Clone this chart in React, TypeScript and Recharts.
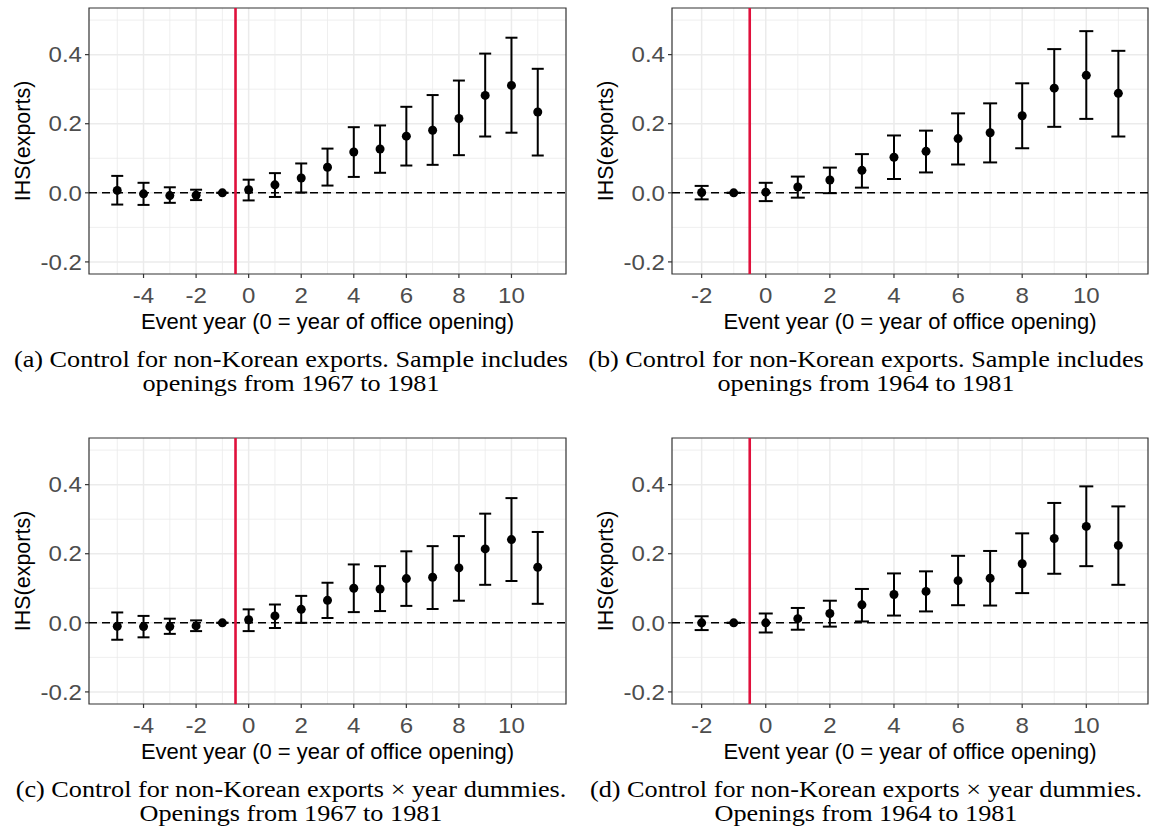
import React from "react";
import {
  ComposedChart,
  Scatter,
  XAxis,
  YAxis,
  ErrorBar,
  CartesianGrid,
  ReferenceLine,
  ReferenceArea,
} from "recharts";

// event years
const yearsLong = [-5, -4, -3, -2, -1, 0, 1, 2, 3, 4, 5, 6, 7, 8, 9, 10, 11];
const yearsShort = [-2, -1, 0, 1, 2, 3, 4, 5, 6, 7, 8, 9, 10, 11];

// (a) openings 1967-1981, control for non-Korean exports
const coefA = [0.007, -0.003, -0.008, -0.007, 0, 0.009, 0.023, 0.043, 0.074, 0.118, 0.127, 0.164, 0.181, 0.215, 0.282, 0.311, 0.234];
const lowA = [-0.034, -0.035, -0.029, -0.021, 0, -0.022, -0.012, 0.001, 0.021, 0.046, 0.058, 0.079, 0.081, 0.109, 0.163, 0.174, 0.108];
const highA = [0.049, 0.029, 0.016, 0.009, 0, 0.038, 0.057, 0.085, 0.128, 0.19, 0.195, 0.249, 0.283, 0.325, 0.403, 0.449, 0.359];

// (b) openings 1964-1981
const coefB = [0.001, 0, 0.002, 0.017, 0.037, 0.065, 0.103, 0.12, 0.157, 0.174, 0.223, 0.303, 0.34, 0.288];
const lowB = [-0.019, 0, -0.024, -0.014, -0.001, 0.015, 0.04, 0.059, 0.082, 0.088, 0.129, 0.191, 0.214, 0.163];
const highB = [0.02, 0, 0.029, 0.047, 0.073, 0.112, 0.166, 0.18, 0.23, 0.259, 0.317, 0.416, 0.468, 0.411];

// (c) x year dummies, 1967-1981
const coefC = [-0.01, -0.011, -0.011, -0.009, 0, 0.009, 0.02, 0.039, 0.065, 0.1, 0.098, 0.128, 0.132, 0.159, 0.214, 0.241, 0.161];
const lowC = [-0.049, -0.042, -0.032, -0.024, 0, -0.024, -0.015, 0, 0.014, 0.031, 0.034, 0.049, 0.04, 0.064, 0.11, 0.121, 0.055];
const highC = [0.03, 0.02, 0.012, 0.007, 0, 0.039, 0.053, 0.078, 0.116, 0.169, 0.164, 0.207, 0.222, 0.251, 0.316, 0.361, 0.263];

// (d) x year dummies, 1964-1981
const coefD = [0, 0, 0, 0.012, 0.027, 0.052, 0.082, 0.091, 0.122, 0.129, 0.171, 0.244, 0.279, 0.224];
const lowD = [-0.021, 0, -0.028, -0.02, -0.011, 0.004, 0.021, 0.033, 0.051, 0.05, 0.086, 0.142, 0.164, 0.11];
const highD = [0.019, 0, 0.027, 0.043, 0.064, 0.098, 0.143, 0.149, 0.194, 0.208, 0.259, 0.347, 0.395, 0.337];

// ticks and grid breaks
const xTicksLong = [-4, -2, 0, 2, 4, 6, 8, 10];
const xMinorLong = [-5, -3, -1, 1, 3, 5, 7, 9, 11];
const xTicksShort = [-2, 0, 2, 4, 6, 8, 10];
const xMinorShort = [-1, 1, 3, 5, 7, 9, 11];
const yTicks = [-0.2, 0, 0.2, 0.4];
const yMinor = [-0.1, 0.1, 0.3, 0.5];

const captionA = ["(a) Control for non-Korean exports. Sample includes", "openings from 1967 to 1981"];
const captionB = ["(b) Control for non-Korean exports. Sample includes", "openings from 1964 to 1981"];
const captionC = ["(c) Control for non-Korean exports \u00d7 year dummies.", "Openings from 1967 to 1981"];
const captionD = ["(d) Control for non-Korean exports \u00d7 year dummies.", "Openings from 1964 to 1981"];

const X_TITLE = "Event year (0 = year of office opening)";
const Y_TITLE = "IHS(exports)";

const SANS = "'Liberation Sans', Arial, Helvetica, sans-serif";
const SERIF = "'Liberation Serif', 'Times New Roman', serif";
const TICK_SX = 1.12;
const CAP_SX = 1.14;
const CHART_H = 340;
const Y_DOMAIN: [number, number] = [-0.235, 0.535];

function XTick(props: any) {
  const { x, y, payload } = props;
  return (
    <g transform={`translate(${x},${y}) scale(${TICK_SX},1)`}>
      <text x={0} y={0} dy="0.71em" textAnchor="middle" fill="#4d4d4d" fontSize={21.5} fontFamily={SANS}>
        {String(payload.value)}
      </text>
    </g>
  );
}

function YTick(props: any) {
  const { x, y, payload } = props;
  return (
    <g transform={`translate(${x},${y}) scale(${TICK_SX},1)`}>
      <text x={0} y={0} dy="0.36em" textAnchor="end" fill="#4d4d4d" fontSize={21.5} fontFamily={SANS}>
        {Number(payload.value).toFixed(1)}
      </text>
    </g>
  );
}

const Dot = (p: any) => <circle cx={p.cx} cy={p.cy} r={4.5} fill="#000" />;

interface PanelProps {
  left: number;
  top: number;
  width: number;
  axisWidth: number;
  rightGap: number;
  years: number[];
  coef: number[];
  low: number[];
  high: number[];
  xDomain: [number, number];
  xTicks: number[];
  xMinor: number[];
  cap: number;
  caption: string[];
  captionX: number;
}

function Panel(p: PanelProps) {
  const data = p.years.map((yr, i) => ({
    yr,
    est: p.coef[i],
    err: [p.coef[i] - p.low[i], p.high[i] - p.coef[i]],
  }));

  return (
    <>
      <div style={{ position: "absolute", left: p.left, top: p.top }}>
        <ComposedChart
          width={p.width}
          height={CHART_H}
          data={data}
          margin={{ top: 8, right: p.rightGap, left: 0, bottom: 0 }}
        >
          <CartesianGrid
            verticalValues={p.xMinor}
            horizontalValues={yMinor}
            stroke="#ebebeb"
            strokeWidth={0.8}
          />
          <CartesianGrid
            verticalValues={p.xTicks}
            horizontalValues={yTicks}
            stroke="#ebebeb"
            strokeWidth={1.5}
          />
          <XAxis
            type="number"
            dataKey="yr"
            domain={p.xDomain}
            ticks={p.xTicks}
            allowDataOverflow
            height={CHART_H - 274}
            axisLine={false}
            tickLine={{ stroke: "#333", strokeWidth: 1.2 }}
            tickSize={4}
            tickMargin={10}
            tick={<XTick />}
            interval={0}
            label={{
              value: X_TITLE,
              position: "insideBottom",
              offset: 11,
              fill: "#000",
              fontSize: 22,
              fontFamily: SANS,
            }}
          />
          <YAxis
            type="number"
            dataKey="est"
            domain={Y_DOMAIN}
            ticks={yTicks}
            allowDataOverflow
            width={p.axisWidth}
            axisLine={false}
            tickLine={{ stroke: "#333", strokeWidth: 1.2 }}
            tickSize={4}
            tickMargin={3}
            tick={<YTick />}
            interval={0}
            label={{
              value: Y_TITLE,
              angle: -90,
              position: "insideLeft",
              offset: p.axisWidth - 67,
              fill: "#000",
              fontSize: 21.5,
              fontFamily: SANS,
              style: { textAnchor: "middle" },
            }}
          />
          <ReferenceArea
            x1={p.xDomain[0]}
            x2={p.xDomain[1]}
            y1={Y_DOMAIN[0]}
            y2={Y_DOMAIN[1]}
            fill="none"
            stroke="#333"
            strokeWidth={1.2}
          />
          <ReferenceLine y={0} stroke="#000" strokeWidth={1.6} strokeDasharray="8 5" />
          <ReferenceLine x={-0.5} stroke="#e0103c" strokeWidth={2.6} />
          <Scatter data={data} dataKey="est" isAnimationActive={false} shape={<Dot />}>
            <ErrorBar dataKey="err" direction="y" width={p.cap} stroke="#000" strokeWidth={2} />
          </Scatter>
        </ComposedChart>
      </div>
      {p.caption.map((line, i) => (
        <div
          key={i}
          style={{
            position: "absolute",
            left: p.captionX - 288,
            top: p.top + 348 + i * 24,
            width: 576,
            height: 24,
            lineHeight: "24px",
            textAlign: "center",
            whiteSpace: "nowrap",
            fontFamily: SERIF,
            fontSize: 23,
            color: "#000",
            transform: `scaleX(${CAP_SX})`,
          }}
        >
          {line}
        </div>
      ))}
    </>
  );
}

export default function App() {
  const longDomain: [number, number] = [-6.075, 12.075];
  const shortDomain: [number, number] = [-2.925, 11.925];
  return (
    <div
      style={{
        position: "fixed",
        left: 0,
        top: 0,
        width: 1153,
        height: 840,
        background: "#fff",
        overflow: "hidden",
      }}
    >
      <Panel left={0} top={0} width={576} axisWidth={89} rightGap={10}
        years={yearsLong} coef={coefA} low={lowA} high={highA}
        xDomain={longDomain} xTicks={xTicksLong} xMinor={xMinorLong} cap={6}
        caption={captionA} captionX={291} />
      <Panel left={576} top={0} width={577} axisWidth={96} rightGap={5}
        years={yearsShort} coef={coefB} low={lowB} high={highB}
        xDomain={shortDomain} xTicks={xTicksShort} xMinor={xMinorShort} cap={7}
        caption={captionB} captionX={866} />
      <Panel left={0} top={430} width={576} axisWidth={89} rightGap={10}
        years={yearsLong} coef={coefC} low={lowC} high={highC}
        xDomain={longDomain} xTicks={xTicksLong} xMinor={xMinorLong} cap={6}
        caption={captionC} captionX={291} />
      <Panel left={576} top={430} width={577} axisWidth={96} rightGap={5}
        years={yearsShort} coef={coefD} low={lowD} high={highD}
        xDomain={shortDomain} xTicks={xTicksShort} xMinor={xMinorShort} cap={7}
        caption={captionD} captionX={866} />
    </div>
  );
}
